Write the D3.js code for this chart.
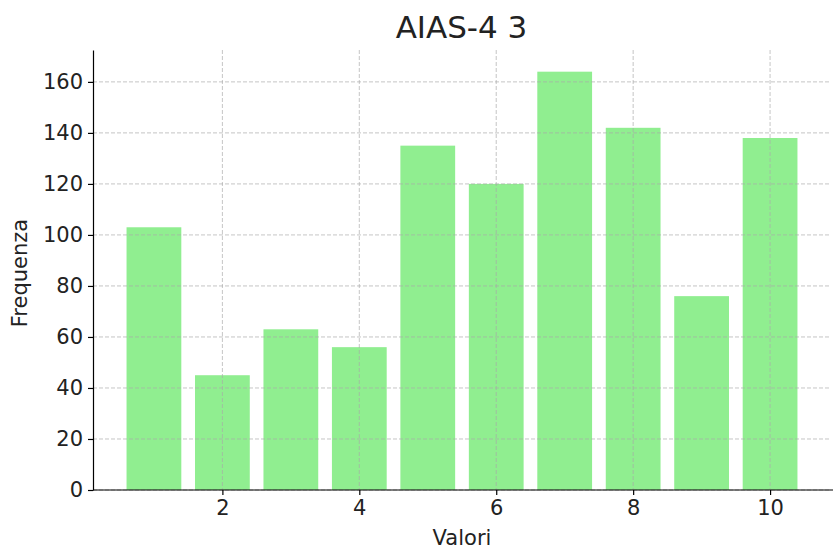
<!DOCTYPE html>
<html>
<head>
<meta charset="utf-8">
<script src="https://cdn.jsdelivr.net/npm/d3@7"></script>
<style>
html,body{margin:0;padding:0;background:#fff;}
svg{display:block;font-family:"DejaVu Sans",sans-serif;}
</style>
</head>
<body>
<svg id="chart" width="835" height="551"></svg>
<script>
const categories = [1,2,3,4,5,6,7,8,9,10];
const values = [103,45,63,56,135,120,164,142,76,138];
const xTicks = [2,4,6,8,10];
const yTicks = [0,20,40,60,80,100,120,140,160];

const svg = d3.select("#chart");
const m = {left:93, right:831, top:50, bottom:490};

const x = d3.scaleLinear().domain([0.11, 10.89]).range([m.left, m.right]);
const y = d3.scaleLinear().domain([0, 172.5]).range([m.bottom, m.top]);
const bw = 0.8;

// bars
svg.append("g").selectAll("rect").data(categories).join("rect")
  .attr("x", d => x(d - bw/2))
  .attr("width", d => x(d + bw/2) - x(d - bw/2))
  .attr("y", (d,i) => y(values[i]))
  .attr("height", (d,i) => y(0) - y(values[i]))
  .attr("fill", "#90ee90");

// grid
const grid = svg.append("g").attr("stroke", "#a8a8a8").attr("stroke-opacity", 0.75)
  .attr("stroke-width", 0.9).attr("stroke-dasharray", "4,2");
grid.selectAll("line.h").data(yTicks).join("line").attr("class","h")
  .attr("x1", m.left).attr("x2", m.right)
  .attr("y1", d => y(d)).attr("y2", d => y(d));
grid.selectAll("line.v").data(xTicks).join("line").attr("class","v")
  .attr("y1", m.top).attr("y2", m.bottom)
  .attr("x1", d => x(d)).attr("x2", d => x(d));

// axes
const xAxis = d3.axisBottom(x).tickValues(xTicks).tickSize(5).tickPadding(5).tickSizeOuter(0);
const yAxis = d3.axisLeft(y).tickValues(yTicks).tickSize(5).tickPadding(5).tickSizeOuter(0);
const gx = svg.append("g").attr("transform", `translate(0,${m.bottom})`).call(xAxis);
const gy = svg.append("g").attr("transform", `translate(${m.left},0)`).call(yAxis);
[gx, gy].forEach(g => {
  g.select(".domain").attr("stroke", "#000").attr("stroke-width", 1.2);
  g.selectAll(".tick line").attr("stroke", "#000").attr("stroke-width", 1.2);
  g.selectAll(".tick text").attr("font-family", "DejaVu Sans, sans-serif")
    .attr("font-size", 21).attr("fill", "#222");
});
gx.select(".domain").attr("d", `M${m.left},0H${m.right+2}`);

// titles
svg.append("text").attr("x", 461.5).attr("y", 38)
  .attr("text-anchor", "middle").attr("font-size", 31).attr("fill", "#222").text("AIAS-4 3");
svg.append("text").attr("x", 462).attr("y", 545)
  .attr("text-anchor", "middle").attr("font-size", 21).attr("fill", "#222").text("Valori");
svg.append("text").attr("transform", `translate(27,273) rotate(-90)`)
  .attr("text-anchor", "middle").attr("font-size", 21).attr("fill", "#222").text("Frequenza");
</script>
</body>
</html>
